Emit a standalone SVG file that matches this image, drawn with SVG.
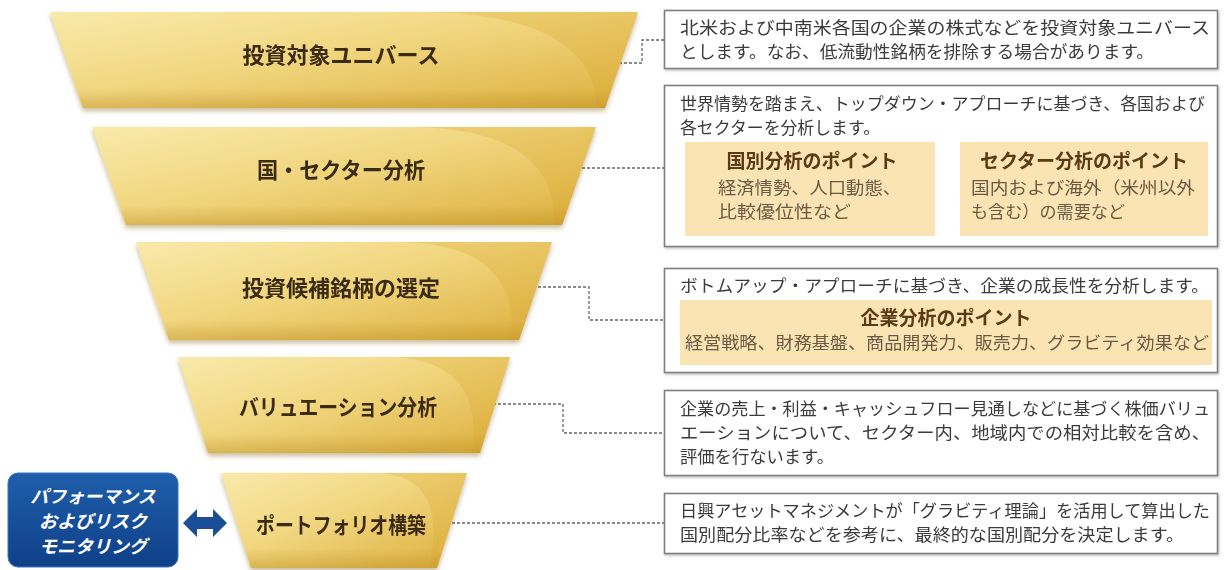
<svg xmlns="http://www.w3.org/2000/svg" width="1228" height="570" viewBox="0 0 1228 570">
<defs>
<linearGradient id="gold" x1="0" y1="0" x2="1" y2="1">
<stop offset="0" stop-color="#f9eaab"/>
<stop offset="0.45" stop-color="#f1d67f"/>
<stop offset="1" stop-color="#dcae3c"/>
</linearGradient>
<linearGradient id="goldBottom" x1="0" y1="0" x2="0" y2="1">
<stop offset="0.8" stop-color="#b5861c" stop-opacity="0"/>
<stop offset="1" stop-color="#b5861c" stop-opacity="0.35"/>
</linearGradient>
<linearGradient id="blue" x1="0" y1="0" x2="0" y2="1">
<stop offset="0" stop-color="#1f5eab"/>
<stop offset="1" stop-color="#0f4088"/>
</linearGradient>
<filter id="fshadow" x="-5%" y="-10%" width="110%" height="130%">
<feDropShadow dx="0" dy="3" stdDeviation="2.5" flood-color="#8a6a20" flood-opacity="0.45"/>
</filter>
<filter id="bshadow" x="-2%" y="-5%" width="104%" height="115%">
<feDropShadow dx="1" dy="1.5" stdDeviation="1" flood-color="#555" flood-opacity="0.35"/>
</filter>
<style>
.seg{fill:url(#gold);}
.segb{fill:url(#goldBottom);}
.sweep{fill:#d6a226;opacity:0.25;}
.segtxt{font-family:"Noto Sans CJK JP","Noto Sans",sans-serif;font-size:22px;font-weight:bold;fill:#3b2a12;text-anchor:middle;}
.box{fill:#ffffff;stroke:#7f7f7f;stroke-width:1.6;}
.sub{fill:#fbe4b3;}
.body{font-family:"Noto Sans CJK JP","Noto Sans",sans-serif;font-size:17px;fill:#3a3a3a;}
.subbody{font-family:"Noto Sans CJK JP","Noto Sans",sans-serif;font-size:17px;fill:#6a5a44;}
.subttl{font-family:"Noto Sans CJK JP","Noto Sans",sans-serif;font-size:19px;font-weight:bold;fill:#5a3a14;text-anchor:middle;}
.conn{fill:none;stroke:#666;stroke-width:1.3;stroke-dasharray:3 2;}
.wt{font-family:"Noto Sans CJK JP","Noto Sans",sans-serif;font-size:18px;font-weight:bold;font-style:italic;fill:#ffffff;text-anchor:middle;}
</style>
</defs>
<rect width="1228" height="570" fill="#ffffff"/>

<g id="connectors">
<polyline class="conn" points="619,63 642,63 642,40 664,40"/>
<polyline class="conn" points="582,168 664,168"/>
<polyline class="conn" points="538,287 589,287 589,320 664,320"/>
<polyline class="conn" points="493,404 563,404 563,433 664,433"/>
<polyline class="conn" points="447,523 664,523"/>
</g>

<g id="seg1" filter="url(#fshadow)">
<polygon class="seg" points="50,12 638,12 605,108 83,108"/>
<path class="sweep" d="M432,12 Q594,17 597,108 L605,108 L638,12 Z"/>
<polygon class="segb" points="50,12 638,12 605,108 83,108"/>
<text class="segtxt" x="341" y="63">投資対象ユニバース</text>
</g>
<g id="seg2" filter="url(#fshadow)">
<polygon class="seg" points="92,127 596,127 562,225 126,225"/>
<path class="sweep" d="M420,127 Q558,132 554,225 L562,225 L596,127 Z"/>
<polygon class="segb" points="92,127 596,127 562,225 126,225"/>
<text class="segtxt" x="341" y="178" textLength="168" lengthAdjust="spacingAndGlyphs">国・セクター分析</text>
</g>
<g id="seg3" filter="url(#fshadow)">
<polygon class="seg" points="136,242 552,242 519,340 169,340"/>
<path class="sweep" d="M406,242 Q521,247 511,340 L519,340 L552,242 Z"/>
<polygon class="segb" points="136,242 552,242 519,340 169,340"/>
<text class="segtxt" x="341" y="296">投資候補銘柄の選定</text>
</g>
<g id="seg4" filter="url(#fshadow)">
<polygon class="seg" points="178,357 510,357 480,453 208,453"/>
<path class="sweep" d="M394,357 Q485,362 472,453 L480,453 L510,357 Z"/>
<polygon class="segb" points="178,357 510,357 480,453 208,453"/>
<text class="segtxt" x="338" y="415" textLength="198" lengthAdjust="spacingAndGlyphs">バリュエーション分析</text>
</g>
<g id="seg5" filter="url(#fshadow)">
<polygon class="seg" points="221,473 467,473 437,568 251,568"/>
<path class="sweep" d="M381,473 Q449,478 429,568 L437,568 L467,473 Z"/>
<polygon class="segb" points="221,473 467,473 437,568 251,568"/>
<text class="segtxt" x="341" y="533" textLength="170" lengthAdjust="spacingAndGlyphs">ポートフォリオ構築</text>
</g>

<g id="monitor">
<rect x="8" y="473" width="170" height="94" rx="10" fill="url(#blue)" stroke="#3a74bb" stroke-width="1"/>
<text class="wt" x="93" y="503">パフォーマンス</text>
<text class="wt" x="93" y="528">およびリスク</text>
<text class="wt" x="93" y="553">モニタリング</text>
</g>
<g id="arrow">
<path d="M183,523 L197,509 L197,517 L213,517 L213,509 L227,523 L213,537 L213,529 L197,529 L197,537 Z" fill="#1a4f97"/>
</g>

<g id="box1" filter="url(#bshadow)">
<rect class="box" x="664.5" y="10.5" width="553" height="58"/>
<text class="body" x="680" y="34" textLength="530" lengthAdjust="spacingAndGlyphs">北米および中南米各国の企業の株式などを投資対象ユニバース</text>
<text class="body" x="680" y="58" textLength="474" lengthAdjust="spacingAndGlyphs">とします。なお、低流動性銘柄を排除する場合があります。</text>
</g>

<g id="box2" filter="url(#bshadow)">
<rect class="box" x="664.5" y="85.5" width="553" height="161"/>
<text class="body" x="680" y="110" textLength="525" lengthAdjust="spacingAndGlyphs">世界情勢を踏まえ、トップダウン・アプローチに基づき、各国および</text>
<text class="body" x="680" y="134" textLength="200" lengthAdjust="spacingAndGlyphs">各セクターを分析します。</text>
<rect class="sub" x="685" y="142" width="250" height="94"/>
<text class="subttl" x="812" y="168">国別分析のポイント</text>
<text class="subbody" x="718" y="194" textLength="183" lengthAdjust="spacingAndGlyphs">経済情勢、人口動態、</text>
<text class="subbody" x="718" y="218" textLength="133" lengthAdjust="spacingAndGlyphs">比較優位性など</text>
<rect class="sub" x="960" y="142" width="248" height="94"/>
<text class="subttl" x="1084" y="168">セクター分析のポイント</text>
<text class="subbody" x="971" y="194" textLength="224" lengthAdjust="spacingAndGlyphs">国内および海外（米州以外</text>
<text class="subbody" x="971" y="218" textLength="154" lengthAdjust="spacingAndGlyphs">も含む）の需要など</text>
</g>

<g id="box3" filter="url(#bshadow)">
<rect class="box" x="664.5" y="268.5" width="553" height="104"/>
<text class="body" x="680" y="292" textLength="529" lengthAdjust="spacingAndGlyphs">ボトムアップ・アプローチに基づき、企業の成長性を分析します。</text>
<rect class="sub" x="680" y="300" width="532" height="65"/>
<text class="subttl" x="946" y="325">企業分析のポイント</text>
<text class="subbody" x="685" y="349" textLength="524" lengthAdjust="spacingAndGlyphs">経営戦略、財務基盤、商品開発力、販売力、グラビティ効果など</text>
</g>

<g id="box4" filter="url(#bshadow)">
<rect class="box" x="664.5" y="390.5" width="553" height="85"/>
<text class="body" x="680" y="415" textLength="530" lengthAdjust="spacingAndGlyphs">企業の売上・利益・キャッシュフロー見通しなどに基づく株価バリュ</text>
<text class="body" x="680" y="439" textLength="530" lengthAdjust="spacingAndGlyphs">エーションについて、セクター内、地域内での相対比較を含め、</text>
<text class="body" x="680" y="463" textLength="154" lengthAdjust="spacingAndGlyphs">評価を行ないます。</text>
</g>

<g id="box5" filter="url(#bshadow)">
<rect class="box" x="664.5" y="493.5" width="553" height="60"/>
<text class="body" x="680" y="517" textLength="530" lengthAdjust="spacingAndGlyphs">日興アセットマネジメントが「グラビティ理論」を活用して算出した</text>
<text class="body" x="680" y="541" textLength="504" lengthAdjust="spacingAndGlyphs">国別配分比率などを参考に、最終的な国別配分を決定します。</text>
</g>
</svg>
